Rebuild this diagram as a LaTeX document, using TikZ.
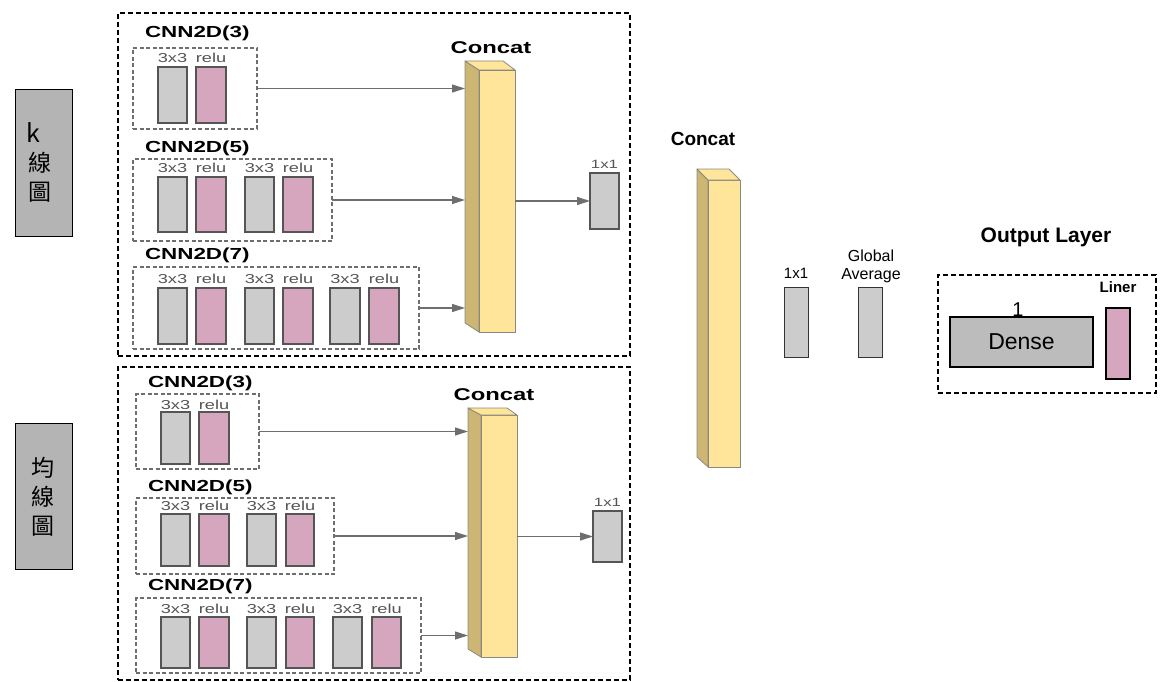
\documentclass[tikz,border=0pt]{standalone}
\usepackage{fontspec}
\setmainfont{Liberation Sans}
\newfontfamily\wsans[FakeStretch=1.4]{Liberation Sans}
\newfontfamily\cjk{Noto Sans CJK TC}
\usetikzlibrary{arrows.meta}
\definecolor{gfill}{HTML}{CCCCCC}
\definecolor{pfill}{HTML}{D5A6BD}
\definecolor{yfront}{HTML}{FFE599}
\definecolor{yside}{HTML}{CDB574}
\definecolor{lbox}{HTML}{B4B4B4}
\definecolor{dfill}{HTML}{BCBCBC}
\definecolor{edge}{HTML}{555555}
\definecolor{arr}{HTML}{6E6E6E}
\definecolor{prismedge}{HTML}{8A8A80}
\newcommand\rnode[6]{\node[#1, minimum width={(#5-#3)*1pt}, minimum height={(#6-#4)*1pt}] (#2) at ({(#3+#5)/2},{(#4+#6)/2}) {};}
\newcommand\prism[9]{%
 \filldraw[fill=yside,draw=prismedge,line width=0.8pt,line join=round] (#2,#6) -- (#3,#7) -- (#3,#8) -- (#2,#9) -- cycle;
 \filldraw[fill=yfront,draw=prismedge,line width=0.8pt] (#3,#7) rectangle (#4,#8);
 \filldraw[fill=yfront,draw=prismedge,line width=0.8pt,line join=round] (#2,#6) -- (#5,#6) -- (#4,#7) -- (#3,#7) -- cycle;
 \node[inner sep=0,outer sep=0,minimum width={(#4-#2)*1pt},minimum height={(#8-#6)*1pt}] (#1) at ({(#2+#4)/2},{(#6+#8)/2}) {};}
\tikzset{
  base/.style={inner sep=0,outer sep=0},
  gbar/.style={base,draw=edge,fill=gfill,line width=1.4pt},
  pbar/.style={gbar,fill=pfill},
  outerbox/.style={base,draw=black,line width=1.1pt,dash pattern=on 5pt off 3pt},
  innerbox/.style={base,draw=arr,line width=1.2pt,dash pattern=on 4pt off 2.5pt},
  cnnlab/.style={base,anchor=west,font=\wsans\bfseries\fontsize{16}{16}\selectfont},
  catlab/.style={base,font=\wsans\bfseries\fontsize{17}{17}\selectfont},
  smlab/.style={base,text=edge,font=\wsans\fontsize{13}{13}\selectfont},
  onelab/.style={base,text=edge,font=\wsans\fontsize{12}{12}\selectfont},
  arrow/.style={draw=arr,line width=1.1pt,-{Triangle[length=13pt,width=8pt]}},
  cjklab/.style={base,font=\cjk\fontsize{23}{23}\selectfont},
  leftbox/.style={base,draw=black,fill=lbox,line width=1pt},
  rbar/.style={base,draw=black!80,fill=gfill,line width=1pt},
}
\begin{document}
\begin{tikzpicture}[x=1pt,y=-1pt]
\useasboundingbox (0,0) rectangle (1170,682);
% left input boxes
\rnode{leftbox}{kbox}{15.5}{90}{72}{236}
\node[base,font=\cjk\fontsize{25}{25}\selectfont,anchor=west] (k1) at (27,133) {k};
\node[cjklab] (k2) at (40,163) {線};
\node[cjklab] (k3) at (40,192) {圖};
\rnode{leftbox}{mbox}{15.5}{423}{72}{569}
\node[cjklab] (m1) at (43,468) {均};
\node[cjklab] (m2) at (43,497) {線};
\node[cjklab] (m3) at (43,526) {圖};
% ===== top block =====
\rnode{outerbox}{ob1}{118}{13}{630}{356}
\node[cnnlab] (ta) at (145,33) {CNN2D(3)};
\node[cnnlab] (tb) at (145,148) {CNN2D(5)};
\node[cnnlab] (tc) at (145,255) {CNN2D(7)};
\rnode{innerbox}{a1}{133}{48}{257}{129}
\rnode{innerbox}{a2}{133}{159}{332}{241}
\rnode{innerbox}{a3}{133}{267}{419}{349}
% row 1
\rnode{gbar}{a1g1}{158}{67}{187}{123}
\rnode{pbar}{a1p1}{196}{67}{226}{123}
\node[smlab] (a1l1) at (172.5,58) {3x3};
\node[smlab] (a1l2) at (211,58) {relu};
% row 2
\rnode{gbar}{a2g1}{158}{177}{187}{232}
\rnode{pbar}{a2p1}{196}{177}{226}{232}
\rnode{gbar}{a2g2}{245}{177}{274}{232}
\rnode{pbar}{a2p2}{283}{177}{313}{232}
\node[smlab] (a2l1) at (172.5,168) {3x3};
\node[smlab] (a2l2) at (211,168) {relu};
\node[smlab] (a2l3) at (259.5,168) {3x3};
\node[smlab] (a2l4) at (298,168) {relu};
% row 3
\rnode{gbar}{a3g1}{158}{288}{187}{344}
\rnode{pbar}{a3p1}{196}{288}{226}{344}
\rnode{gbar}{a3g2}{245}{288}{274}{344}
\rnode{pbar}{a3p2}{283}{288}{313}{344}
\rnode{gbar}{a3g3}{330}{288}{360}{344}
\rnode{pbar}{a3p3}{369}{288}{399}{344}
\node[smlab] (a3l1) at (172.5,279) {3x3};
\node[smlab] (a3l2) at (211,279) {relu};
\node[smlab] (a3l3) at (259.5,279) {3x3};
\node[smlab] (a3l4) at (298,279) {relu};
\node[smlab] (a3l5) at (345,279) {3x3};
\node[smlab] (a3l6) at (384,279) {relu};
% concat
\node[catlab] (tcat) at (491,47.5) {Concat};
\prism{cc1}{465}{479}{515}{503}{61}{70}{332}{323}
\rnode{gbar}{o1}{590}{173}{619}{229}
\node[onelab] (o1l) at (604.5,164) {1x1};
\draw[arrow] (a1.east) -- (a1.east -| cc1.west);
\draw[arrow] (a2.east) -- (a2.east -| cc1.west);
\draw[arrow] (a3.east) -- (a3.east -| cc1.west);
\draw[arrow] (o1.west -| cc1.east) -- (o1.west);
% ===== bottom block =====
\rnode{outerbox}{ob2}{118}{367}{630}{680}
\node[cnnlab] (ba) at (148,383) {CNN2D(3)};
\node[cnnlab] (bb) at (148,487) {CNN2D(5)};
\node[cnnlab] (bc) at (148,586) {CNN2D(7)};
\rnode{innerbox}{c1}{136}{394}{259}{469}
\rnode{innerbox}{c2}{136}{498}{334}{574}
\rnode{innerbox}{c3}{136}{598}{421}{673}
% row 1
\rnode{gbar}{c1g1}{161}{412}{190}{464}
\rnode{pbar}{c1p1}{199}{412}{229}{464}
\node[smlab] (c1l1) at (175.5,405) {3x3};
\node[smlab] (c1l2) at (214,405) {relu};
% row 2
\rnode{gbar}{c2g1}{161}{514}{190}{566}
\rnode{pbar}{c2p1}{199}{514}{229}{566}
\rnode{gbar}{c2g2}{247}{514}{276}{566}
\rnode{pbar}{c2p2}{286}{514}{314}{566}
\node[smlab] (c2l1) at (175.5,506) {3x3};
\node[smlab] (c2l2) at (214,506) {relu};
\node[smlab] (c2l3) at (261.5,506) {3x3};
\node[smlab] (c2l4) at (300,506) {relu};
% row 3
\rnode{gbar}{c3g1}{161}{617}{190}{668}
\rnode{pbar}{c3p1}{199}{617}{229}{668}
\rnode{gbar}{c3g2}{247}{617}{276}{668}
\rnode{pbar}{c3p2}{286}{617}{314}{668}
\rnode{gbar}{c3g3}{333}{617}{362}{668}
\rnode{pbar}{c3p3}{372}{617}{401}{668}
\node[smlab] (c3l1) at (175.5,609) {3x3};
\node[smlab] (c3l2) at (214,609) {relu};
\node[smlab] (c3l3) at (261.5,609) {3x3};
\node[smlab] (c3l4) at (300,609) {relu};
\node[smlab] (c3l5) at (347.5,609) {3x3};
\node[smlab] (c3l6) at (386.5,609) {relu};
% concat
\node[catlab] (bcat) at (494,395) {Concat};
\prism{cc2}{468}{481}{517}{507}{408}{415}{657}{649}
\rnode{gbar}{o2}{593}{511}{622}{562}
\node[onelab] (o2l) at (607.5,502) {1x1};
\draw[arrow] (c1.east) -- (c1.east -| cc2.west);
\draw[arrow] (c2.east) -- (c2.east -| cc2.west);
\draw[arrow] (c3.east) -- (c3.east -| cc2.west);
\draw[arrow] (o2.west -| cc2.east) -- (o2.west);
% ===== middle =====
\node[base,font=\bfseries\fontsize{19}{19}\selectfont] (mcat) at (703,139) {Concat};
\prism{cc3}{697}{708}{740}{729}{169}{180}{467}{457}
\rnode{rbar}{m1x1}{784}{287}{808}{357}
\node[base,font=\fontsize{15}{15}\selectfont] (m1x1l) at (796,273) {1x1};
\rnode{rbar}{ga}{858}{287}{882}{357}
\node[base,font=\fontsize{16}{16}\selectfont] (gal1) at (871,256) {Global};
\node[base,font=\fontsize{16}{16}\selectfont] (gal2) at (871,276) {Average};
% ===== output layer =====
\node[base,font=\bfseries\fontsize{21}{21}\selectfont] (outl) at (1046,237) {Output Layer};
\rnode{base,draw=black,line width=1.1pt,dash pattern=on 5pt off 3pt}{outbox}{938}{275}{1156}{393}
\node[base,draw=black,fill=dfill,line width=1.2pt,minimum width=143pt,minimum height=50pt,font=\fontsize{23}{23}\selectfont] (dense) at (1021.5,342) {Dense};
\node[base,font=\fontsize{20}{20}\selectfont] (one) at (1018,310) {1};
\rnode{base,draw=black,fill=pfill,line width=1.2pt}{liner}{1106}{308}{1130}{379}
\node[base,font=\bfseries\fontsize{15}{15}\selectfont] (linerl) at (1118,287) {Liner};
\end{tikzpicture}
\end{document}
